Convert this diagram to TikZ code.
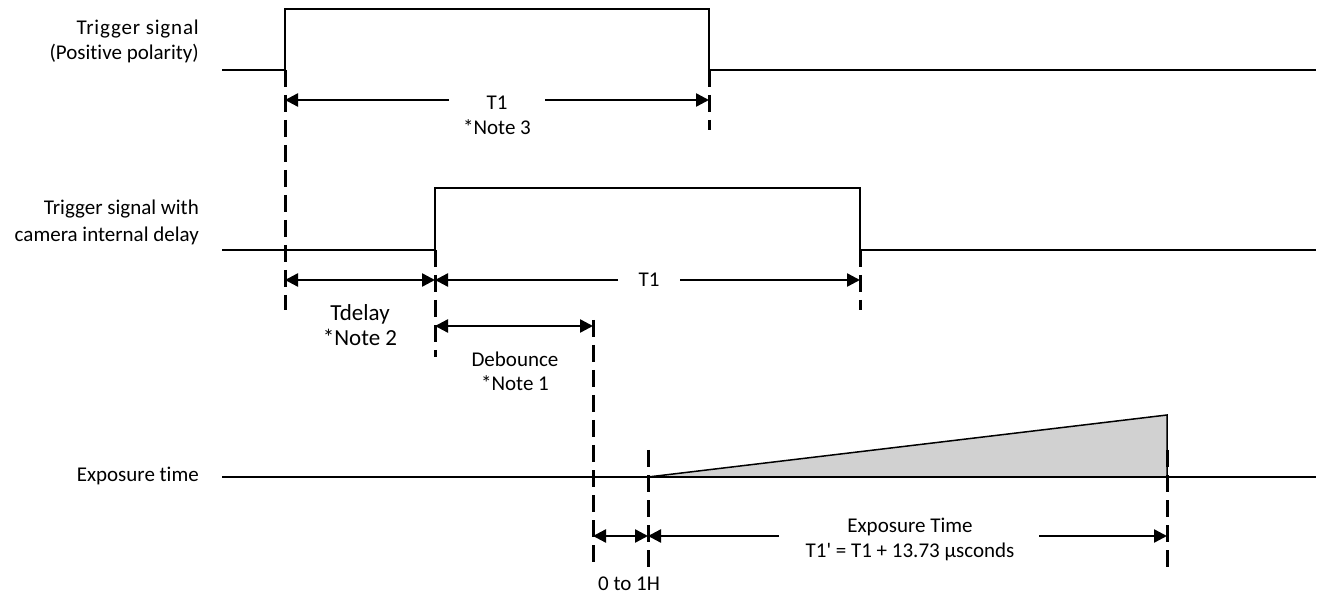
\documentclass[tikz,border=0pt]{standalone}
\usepackage{fontspec}
\setmainfont{Carlito}[Ligatures={NoCommon}]
\newfontfamily\nomap{Carlito}[Ligatures={NoCommon}]
\usetikzlibrary{arrows.meta}
\begin{document}
\begin{tikzpicture}[x=1pt,y=-1pt,
  sig/.style={line width=2pt},
  dsh/.style={line width=3pt, dash pattern=on 17pt off 8pt},
  dimr/.style={line width=2.4pt, -{Triangle[length=13pt,width=13pt]}},
  dimb/.style={line width=2.4pt, {Triangle[length=13pt,width=13pt]}-{Triangle[length=13pt,width=13pt]}},
  txt/.style={font=\fontsize{21}{25}\selectfont, inner sep=0pt},
  wide/.style={font=\fontsize{21}{25}\addfontfeatures{LetterSpace=4}\selectfont, inner sep=0pt},
  big/.style={font=\fontsize{23}{27}\selectfont, inner sep=0pt}]
\useasboundingbox (0,0) rectangle (1323,593);
% labels
\node[wide,anchor=base east] (l1a) at (199,35) {Trigger signal};
\node[txt,anchor=base east] (l1b) at (199,60) {(Positive polarity)};
\node[txt,anchor=base east] (l2a) at (199,215) {Trigger signal with};
\node[txt,anchor=base east] (l2b) at (199,242) {camera internal delay};
\node[txt,anchor=base east] (l3) at (199,481) {Exposure time};
% signal 1
\draw[sig] (222,70) -- (285,70) -- (285,9) -- (709,9) -- (709,70) -- (1316,70);
% signal 2
\draw[sig] (222,250) -- (435,250) -- (435,188) -- (860,188) -- (860,250) -- (1316,250);
% exposure
\fill[black!18] (648,477) -- (1167,415) -- (1167,477) -- cycle;
\draw[line width=1.5pt] (648,477) -- (1167,415) -- (1167,477);
\draw[sig] (222,477) -- (1316,477);
% dashed markers
\coordinate (a0) at (285,70);  \coordinate (a1) at (285,310);
\coordinate (b0) at (709,70);  \coordinate (b1) at (709,130);
\coordinate (c0) at (435,250); \coordinate (c1) at (435,357);
\coordinate (d0) at (860,250); \coordinate (d1) at (860,310);
\coordinate (e0) at (593,320); \coordinate (e1) at (593,568);
\coordinate (f0) at (648,450); \coordinate (f1) at (648,570);
\coordinate (g0) at (1167,450); \coordinate (g1) at (1167,568);
\foreach \p in {a,b,c,d,e,f,g} \draw[dsh] (\p0) -- (\p1);
% row 1
\coordinate (r1l) at (285,100); \coordinate (r1r) at (709,100);
\coordinate (r1gl) at (449,100); \coordinate (r1gr) at (545,100);
\draw[dimr] (r1gl) -- (r1l);
\draw[dimr] (r1gr) -- (r1r);
\node[txt,anchor=base] (t1a) at (497,110) {T1};
\node[txt,anchor=base] (n3) at (497,135) {*Note 3};
% row 2
\coordinate (r2a) at (285,280); \coordinate (r2b) at (435,280); \coordinate (r2c) at (860,280);
\coordinate (r2gl) at (618,280); \coordinate (r2gr) at (680,280);
\draw[dimb] (r2a) -- (r2b);
\draw[dimr] (r2gl) -- (r2b);
\draw[dimr] (r2gr) -- (r2c);
\node[txt,anchor=base] (t1b) at (649,287) {T1};
\node[big,anchor=base] (td) at (360,321) {Tdelay};
\node[big,anchor=base] (n2) at (360,346) {*Note 2};
% row 3
\coordinate (r3a) at (435,326); \coordinate (r3b) at (593,326);
\draw[dimb] (r3a) -- (r3b);
\node[txt,anchor=base] (db) at (515,367) {Debounce};
\node[txt,anchor=base] (n1) at (515,391) {*Note 1};
% row 4
\coordinate (r4a) at (593,536); \coordinate (r4b) at (648,536); \coordinate (r4c) at (1167,536);
\coordinate (r4gl) at (779,536); \coordinate (r4gr) at (1039,536);
\draw[dimb] (r4a) -- (r4b);
\draw[dimr] (r4gl) -- (r4b);
\draw[dimr] (r4gr) -- (r4c);
\node[txt,anchor=base] (et) at (910,532) {Exposure Time};
\node[txt,anchor=base] (ef) at (910,557) {\nomap T1' = T1 + 13.73 µsconds};
\node[txt,anchor=base] (oh) at (629,590) {0 to 1H};
\end{tikzpicture}
\end{document}
